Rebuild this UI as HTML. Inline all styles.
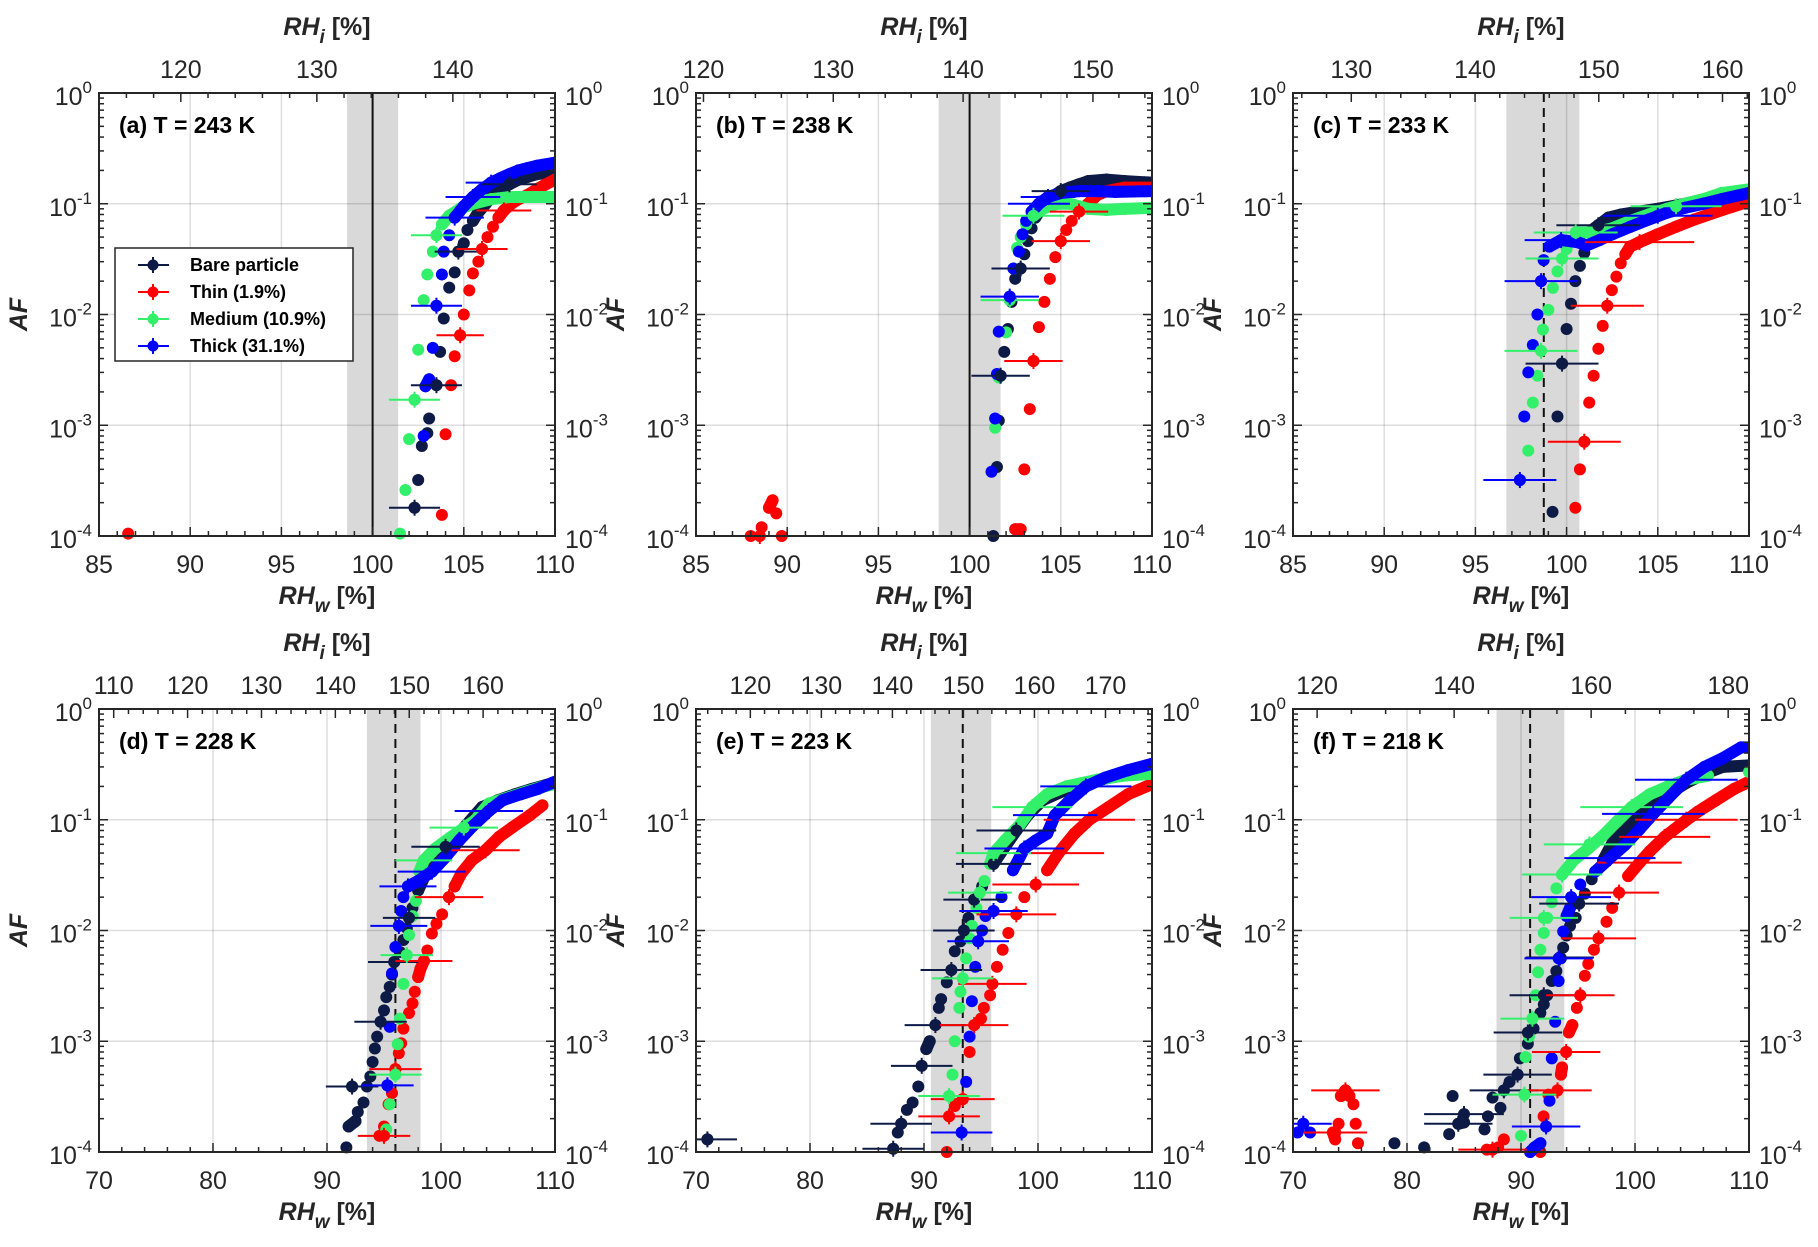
<!DOCTYPE html>
<html><head><meta charset="utf-8">
<style>
html,body{margin:0;padding:0;background:#fff;}
svg{display:block;font-family:"Liberation Sans",Arial,sans-serif;}
</style></head>
<body>
<svg id="fig" width="1818" height="1247" viewBox="0 0 1818 1247" xmlns="http://www.w3.org/2000/svg"></svg>
<script>
// ---------- data: [RHw %, AF] ----------
const aBare=[[102.3,1.8e-4],[102.5,3.2e-4],[102.7,6.5e-4],[103,8.5e-4],[103.1,1.15e-3],[103.5,2.3e-3],[103.7,4.6e-3],[103.9,9.2e-3],[104.2,1.75e-2],[104.5,2.4e-2],[104.7,3.7e-2],[105,4.4e-2],[105.2,5.8e-2],[105.5,7e-2],[105.8,8.4e-2],[106.2,0.1],[106.6,0.12],[107,0.135],[107.5,0.15],[108,0.165],[108.5,0.175],[109,0.185],[109.5,0.19],[110,0.195]];
const aThin=[[86.6,1.05e-4],[103.8,1.55e-4],[104,8.3e-4],[104.3,2.3e-3],[104.5,4.2e-3],[104.8,6.5e-3],[105,1e-2],[105.3,1.65e-2],[105.5,2.35e-2],[105.8,3e-2],[106,3.9e-2],[106.3,5e-2],[106.6,6.2e-2],[106.9,7.5e-2],[107.2,8.7e-2],[107.6,0.1],[108,0.11],[108.5,0.12],[109,0.135],[109.5,0.15],[110,0.165]];
const aMed=[[101.5,1.05e-4],[101.8,2.6e-4],[102,7.5e-4],[102.3,1.7e-3],[102.5,4.8e-3],[102.8,1.35e-2],[103,2.3e-2],[103.3,3.7e-2],[103.5,5.2e-2],[103.8,6.5e-2],[104.2,7.8e-2],[104.8,9e-2],[105.5,0.1],[106.5,0.11],[107.5,0.115],[108.5,0.115],[110,0.115]];
const aThick=[[102.8,8e-4],[102.9,2.25e-3],[103.1,2.6e-3],[103.3,5e-3],[103.5,1.2e-2],[103.8,2.3e-2],[103.9,3.7e-2],[104.2,5.2e-2],[104.5,7.5e-2],[105,9.5e-2],[105.5,0.115],[106,0.135],[106.5,0.155],[107,0.17],[107.5,0.185],[108,0.2],[108.5,0.21],[109,0.22],[110,0.235]];
const aErr=[[0,102.3,1.8e-4,1.4],[0,103.5,2.3e-3,1.4],[0,104.7,3.7e-2,1.3],[1,104.8,6.5e-3,1.3],[1,106,3.9e-2,1.4],[1,107.2,8.7e-2,1.5],[2,102.3,1.7e-3,1.4],[2,103.5,5.2e-2,1.4],[3,103.5,1.2e-2,1.4],[3,104.5,7.5e-2,1.6],[3,105.5,0.115,1.5],[3,106.5,0.155,1.4],[0,107.5,0.15,1.5]];

const bBare=[[101.3,1e-4],[101.5,4.2e-4],[101.6,1.1e-3],[101.7,2.8e-3],[101.9,4.6e-3],[102.1,7.4e-3],[102.3,1.3e-2],[102.5,2.1e-2],[102.8,2.6e-2],[103,3.5e-2],[103.2,4.6e-2],[103.4,6e-2],[103.6,7.5e-2],[104,9.5e-2],[104.5,0.115],[105,0.13],[105.5,0.14],[106,0.15],[106.5,0.16],[107.5,0.165],[108.5,0.16],[110,0.155]];
const bThin=[[88,1e-4],[88.6,1.2e-4],[89,1.8e-4],[89.2,2.1e-4],[89.4,1.6e-4],[89.7,1e-4],[102.5,1.15e-4],[102.8,1.15e-4],[103,4e-4],[103.3,1.4e-3],[103.5,3.8e-3],[103.8,7.7e-3],[104.1,1.3e-2],[104.4,2.1e-2],[104.7,3.3e-2],[105,4.6e-2],[105.3,5.8e-2],[105.6,7e-2],[106,8.5e-2],[106.5,0.1],[107,0.12],[107.5,0.13],[108.5,0.14],[110,0.14]];
const bMed=[[101.4,9.5e-4],[101.6,2.7e-3],[102,6.9e-3],[102.2,1.35e-2],[102.4,2.6e-2],[102.6,4e-2],[102.8,5e-2],[103.1,6.5e-2],[103.5,7.8e-2],[104,9e-2],[104.8,0.1],[105.5,0.1],[106.5,0.09],[107.5,0.088],[108.5,0.09],[110,0.092]];
const bThick=[[101.2,3.8e-4],[101.4,1.15e-3],[101.5,2.9e-3],[101.6,7e-3],[102.2,1.45e-2],[102.4,2.6e-2],[102.7,3.7e-2],[102.9,5.3e-2],[103.1,7e-2],[103.4,8.5e-2],[103.8,0.1],[104.3,0.115],[105,0.125],[106,0.13],[107,0.13],[108,0.128],[110,0.13]];
const bErr=[[1,88.5,1e-4,1.6],[0,101.7,2.8e-3,1.6],[0,102.8,2.6e-2,1.6],[1,103.5,3.8e-3,1.6],[1,105,4.6e-2,1.6],[2,102.2,1.35e-2,1.6],[2,103.5,7.8e-2,1.7],[3,102.2,1.45e-2,1.6],[3,103.8,0.1,1.7],[3,104.3,0.115,1.5],[1,106,8.5e-2,1.6],[0,105,0.13,1.6]];

const cBare=[[99.23,1.65e-4],[99.5,1.2e-3],[99.75,3.6e-3],[100,7.4e-3],[100.24,1.25e-2],[100.48,2e-2],[100.73,2.75e-2],[100.97,3.6e-2],[101.4,5.8e-2],[101.74,6.4e-2],[102.3,7.5e-2],[103,8e-2],[104,8.5e-2],[105,9e-2],[106.5,0.1],[108.5,0.12],[110,0.13]];
const cThin=[[100.48,1.8e-4],[100.73,4e-4],[100.97,7.1e-4],[101.24,1.6e-3],[101.48,2.8e-3],[101.74,4.9e-3],[101.98,7.9e-3],[102.23,1.2e-2],[102.48,1.66e-2],[102.73,2.2e-2],[102.97,2.9e-2],[103.22,3.5e-2],[103.48,4.1e-2],[104,4.5e-2],[105,5.3e-2],[106,6.2e-2],[107,7.2e-2],[108,8.2e-2],[109,9.3e-2],[110,0.105]];
const cMed=[[97.9,5.9e-4],[98.15,1.6e-3],[98.4,2.8e-3],[98.6,4.7e-3],[98.7,7.3e-3],[99,1.1e-2],[99.25,1.74e-2],[99.5,2.45e-2],[99.75,3.2e-2],[100,3.9e-2],[100.5,5.5e-2],[101.5,5.5e-2],[102.5,6e-2],[103.5,7e-2],[104.5,8e-2],[105.5,9e-2],[106.5,0.1],[107.5,0.11],[108.5,0.125],[110,0.135]];
const cThick=[[97.44,3.2e-4],[97.68,1.2e-3],[97.9,3e-3],[98.15,5.3e-3],[98.4,1e-2],[98.6,2e-2],[98.74,3.1e-2],[99.05,4.1e-2],[99.7,4.7e-2],[100.6,4.5e-2],[101.1,4.2e-2],[101.8,4.7e-2],[102.5,5.3e-2],[103.5,6.2e-2],[104.5,7.2e-2],[105.5,8.3e-2],[106.5,9.2e-2],[107.5,0.1],[108.5,0.11],[110,0.125]];
const cErr=[[0,99.75,3.6e-3,2],[0,101.74,6.4e-2,2.3],[1,100.97,7.1e-4,2],[1,102.23,1.2e-2,2],[1,104,4.5e-2,3],[2,98.6,4.7e-3,2],[2,99.75,3.2e-2,2],[2,100.5,5.5e-2,2.3],[3,97.44,3.2e-4,2],[3,98.6,2e-2,2],[3,99.7,4.7e-2,2],[2,106,9.5e-2,2.5],[3,105,7.8e-2,3]];

const dBare=[[91.7,1.1e-4],[91.9,1.7e-4],[92.5,1.9e-4],[92.7,2.3e-4],[93.2,2.8e-4],[92.2,3.9e-4],[93.5,3.9e-4],[93.8,4.8e-4],[94,6.5e-4],[94.2,8.6e-4],[94.4,1.1e-3],[94.7,1.5e-3],[95,1.9e-3],[95.2,2.5e-3],[95.5,3.1e-3],[95.7,4e-3],[95.9,5.2e-3],[96.4,6.4e-3],[96.7,8.2e-3],[97,1.05e-2],[97.2,1.3e-2],[97.5,1.6e-2],[98,2.3e-2],[98.9,3.7e-2],[100.4,5.7e-2],[101.8,8e-2],[103.6,0.13],[105,0.15],[106.5,0.17],[108,0.19],[109.5,0.21],[110,0.22]];
const dThin=[[94.6,1.4e-4],[95,1.7e-4],[95.4,2.7e-4],[95.7,3.4e-4],[96,5.6e-4],[96.3,7.8e-4],[96.5,9.6e-4],[96.7,1.3e-3],[97.2,1.8e-3],[97.5,2.2e-3],[97.7,2.8e-3],[98,3.8e-3],[98.2,4.5e-3],[98.5,5.3e-3],[98.8,6.6e-3],[99.2,9.4e-3],[99.6,1.15e-2],[100.1,1.4e-2],[100.7,2e-2],[101.2,2.5e-2],[101.8,3.3e-2],[102.7,4.3e-2],[103.9,5.3e-2],[105.1,7e-2],[106.3,8.6e-2],[107.8,0.11],[108.9,0.135]];
const dMed=[[95.2,1.6e-4],[95.5,2.7e-4],[96,5e-4],[96.2,9.4e-4],[96.4,1.6e-3],[96.7,3.3e-3],[97,6e-3],[97.2,9.1e-3],[97.5,1.35e-2],[97.8,1.85e-2],[98.1,3.4e-2],[98.5,4.3e-2],[99.5,5.5e-2],[100.9,7e-2],[103,9.9e-2],[104.2,0.14],[106,0.16],[107.5,0.18],[109,0.2],[110,0.21]];
const dThick=[[95.3,4e-4],[95.5,1.35e-3],[95.7,4.1e-3],[96,7.1e-3],[96.3,1.1e-2],[96.5,1.5e-2],[96.7,2e-2],[97.1,2.5e-2],[98,2.8e-2],[99.2,3.4e-2],[100.4,4.6e-2],[101.6,6.5e-2],[102.7,8.6e-2],[104.2,0.12],[105.4,0.15],[107,0.17],[108.5,0.19],[110,0.22]];
const dErr=[[0,92.2,3.9e-4,2.3],[0,94.7,1.5e-3,2.3],[0,95.9,5.2e-3,2.3],[0,97.2,1.3e-2,2.3],[0,100.4,5.7e-2,3],[1,95,1.4e-4,2.3],[1,96,5.6e-4,2.3],[1,98.5,5.3e-3,2.5],[1,100.7,2e-2,3],[1,103.9,5.3e-2,3],[2,96,5e-4,2.3],[2,97,6e-3,2.3],[2,98.5,4.3e-2,2.5],[3,95.3,4e-4,2.3],[3,96.3,1.1e-2,2.5],[3,97.1,2.5e-2,2.5],[3,99.2,3.4e-2,3],[2,102,8.5e-2,3],[3,104.2,0.12,3]];

const eBare=[[71,1.3e-4],[87.3,1.07e-4],[87.7,1.5e-4],[88,1.8e-4],[88.5,2.4e-4],[89,2.8e-4],[89.5,3.9e-4],[89.8,6e-4],[90.2,8.5e-4],[90.5,1e-3],[91,1.4e-3],[91.3,2e-3],[91.5,2.4e-3],[92,3.4e-3],[92.4,4.4e-3],[92.7,6.5e-3],[93.2,8e-3],[93.5,1e-2],[93.9,1.3e-2],[94.4,1.9e-2],[95.1,2.5e-2],[96.1,4e-2],[97.1,5.7e-2],[98.1,8e-2],[99.1,0.11],[100.4,0.15],[102.1,0.18],[104.5,0.22],[107.2,0.25],[110,0.28]];
const eThin=[[92,1e-4],[92.2,2.1e-4],[92.7,2.6e-4],[93.4,3e-4],[94,8e-4],[94.4,1.4e-3],[95,1.6e-3],[95.25,2e-3],[95.8,2.6e-3],[96,3.3e-3],[96.4,4.7e-3],[96.9,6.7e-3],[97.4,9.5e-3],[98.1,1.4e-2],[98.8,2e-2],[99.8,2.6e-2],[100.8,3.5e-2],[101.8,5e-2],[103.2,7.5e-2],[104.5,0.1],[106.2,0.13],[107.9,0.17],[110,0.21]];
const eMed=[[92.2,3.2e-4],[92.5,5e-4],[92.7,1e-3],[93.1,2e-3],[93.2,2.8e-3],[93.4,3.7e-3],[93.7,5.6e-3],[94,8.5e-3],[94.2,1.1e-2],[94.6,1.6e-2],[94.9,2.2e-2],[95.3,2.8e-2],[95.8,4e-2],[96.1,5e-2],[97.1,6.5e-2],[98.4,9e-2],[99.5,0.13],[100.8,0.17],[102.5,0.2],[105.2,0.23],[107.5,0.25],[110,0.26]];
const eThick=[[93.3,1.5e-4],[93.7,4.3e-4],[94,1.1e-3],[94.2,2.3e-3],[94.5,4.7e-3],[94.75,8e-3],[95.1,1e-2],[95.4,1.35e-2],[96.1,1.5e-2],[96.8,2e-2],[97.8,3.5e-2],[98.8,5.5e-2],[99.8,6.5e-2],[100.8,7.5e-2],[101.5,0.11],[102.8,0.15],[104.2,0.2],[105.9,0.24],[107.9,0.28],[110,0.32]];
const eErr=[[0,71,1.3e-4,2.6],[0,87.3,1.07e-4,2.7],[0,88,1.8e-4,2.7],[0,89.8,6e-4,2.7],[0,91,1.4e-3,2.7],[0,92.4,4.4e-3,2.7],[0,93.5,1e-2,2.7],[0,94.4,1.9e-2,2.7],[0,96.1,4e-2,3.3],[0,98.1,8e-2,3.5],[1,92.2,2.1e-4,2.7],[1,93.4,3e-4,2.8],[1,94.4,1.4e-3,3],[1,96,3.3e-3,3],[1,98.1,1.4e-2,3.5],[1,99.8,2.6e-2,3.8],[1,101.8,5e-2,4],[1,104.5,0.1,4],[2,92.2,3.2e-4,2.7],[2,93.4,3.7e-3,2.7],[2,94.9,2.2e-2,2.8],[2,96.1,5e-2,3.3],[2,99.5,0.13,3.5],[3,93.3,1.5e-4,2.7],[3,94.75,8e-3,2.7],[3,96.1,1.5e-2,3],[3,98.8,5.5e-2,3.5],[3,101.5,0.11,3.7],[3,104.2,0.2,4]];

const fBare=[[78.9,1.2e-4],[81.5,1.1e-4],[83.7,1.45e-4],[84,3.2e-4],[84.5,1.8e-4],[85,1.85e-4],[86.8,1.6e-4],[87.1,2.1e-4],[87.5,3.1e-4],[88.2,2.5e-4],[88.5,3.6e-4],[89,4.3e-4],[89.7,5e-4],[89.9,7e-4],[90.6,9.5e-4],[91.1,1.3e-3],[91.7,1.8e-3],[92,2.15e-3],[92.3,2.6e-3],[92.7,3.5e-3],[93.1,4.3e-3],[93.4,5.7e-3],[93.7,7e-3],[94,9e-3],[94.3,1.1e-2],[94.8,1.3e-2],[95.1,1.75e-2],[95.6,2.15e-2],[96.2,2.9e-2],[97.2,4.3e-2],[98.1,6.4e-2],[99.1,8.2e-2],[100.4,0.113],[101.6,0.144],[102.9,0.17],[104.5,0.215],[106.1,0.26],[107.7,0.3],[110,0.31]];
const fThin=[[73.5,1.5e-4],[73.7,1.3e-4],[74,1.8e-4],[74.2,3.2e-4],[74.6,3.6e-4],[74.95,3.2e-4],[75.3,2.7e-4],[75.5,1.8e-4],[75.7,1.2e-4],[87,1.05e-4],[88,1.1e-4],[88.5,1.3e-4],[91.7,1e-4],[91.98,2.1e-4],[92.4,3.3e-4],[93.2,3.6e-4],[93.5,5e-4],[93.6,5.8e-4],[93.96,8e-4],[94.2,1.2e-3],[94.5,1.4e-3],[94.9,2e-3],[95.2,2.6e-3],[95.6,3.9e-3],[95.9,5e-3],[96.4,6.7e-3],[96.8,8.5e-3],[97.5,1.2e-2],[98,1.6e-2],[98.6,2.2e-2],[99.4,3.1e-2],[100.4,4.1e-2],[101.3,5.2e-2],[102.6,7e-2],[103.9,8.9e-2],[105.5,0.118],[107.1,0.15],[108.7,0.19],[109.8,0.215]];
const fMed=[[90,1.4e-4],[90.3,3.3e-4],[90.4,7.2e-4],[90.7,1.1e-3],[91,1.6e-3],[91.3,2.6e-3],[91.5,4.2e-3],[91.7,6.7e-3],[92,9.5e-3],[92.3,1.3e-2],[92.7,1.8e-2],[93.1,2.4e-2],[93.6,3.2e-2],[94.6,4.3e-2],[95.9,5.5e-2],[97.2,7.2e-2],[98.4,9.6e-2],[99.7,0.13],[101.3,0.17],[102.9,0.2],[104.5,0.23],[106.4,0.25],[110,0.27]];
const fThick=[[70.4,1.5e-4],[70.9,1.8e-4],[71.5,1.5e-4],[90.8,1e-4],[91.2,1.1e-4],[91.7,1.2e-4],[92.2,1.7e-4],[92.5,2.9e-4],[92.7,7e-4],[93,1.5e-3],[93.3,3.5e-3],[93.5,5.6e-3],[93.7,9.8e-3],[94,1.35e-2],[94.3,1.6e-2],[94.4,2e-2],[95.2,2.6e-2],[96.5,3.4e-2],[97.8,4.5e-2],[99.1,5.9e-2],[100.4,8.2e-2],[101.6,0.113],[102.9,0.156],[104.5,0.23],[106.1,0.3],[107.7,0.36],[109.3,0.45],[110,0.45]];
const fErr=[[1,74.6,3.6e-4,3],[1,73.7,1.5e-4,2.8],[3,70.9,1.8e-4,2.5],[0,84.5,1.8e-4,3],[0,85,2.2e-4,3.5],[0,88.5,3.6e-4,3],[0,89.7,5e-4,3],[0,90.6,1.2e-3,3],[0,92,2.6e-3,3],[0,93.4,5.7e-3,3],[0,95.1,1.75e-2,3.5],[1,87.5,1.05e-4,3],[1,93.2,3.6e-4,3],[1,93.96,8e-4,3],[1,95.2,2.6e-3,3],[1,96.8,8.5e-3,3.3],[1,98.6,2.2e-2,3.5],[1,100.4,4.1e-2,3.7],[1,102.6,7e-2,4],[1,104.5,0.1,4.5],[2,90.3,3.3e-4,2.8],[2,91,1.6e-3,2.8],[2,92,1.3e-2,3],[2,93.6,3.2e-2,3.5],[2,96,6e-2,4],[2,99.7,0.13,4.5],[3,92.2,1.7e-4,3],[3,93.3,5.6e-3,3],[3,94.4,2e-2,3.5],[3,97.8,4.5e-2,4],[3,101.6,0.113,4.5],[3,104.5,0.23,4.5]];

// axis tick labels
const yTickExp=[0,-1,-2,-3,-4];
const xTicksRow1=[85,90,95,100,105,110];
const xTicksRow2=[70,80,90,100,110];

const COLORS=['#0d1a45','#ff0000','#33f06a','#0000ff'];
const SERIES_NAMES=['bare-particle','thin-coating','medium-coating','thick-coating'];

const panels=[
 {id:'a',label:'(a) T = 243 K',L:99,T:93,xmin:85,xmax:110,xticks:xTicksRow1,xminor:1,ratio:1.341,top:[120,130,140],topMinor:2,band:[98.6,101.4],vline:100,dashed:false,dense:0.065,data:[aBare,aThin,aMed,aThick],err:aErr},
 {id:'b',label:'(b) T = 238 K',L:696,T:93,xmin:85,xmax:110,xticks:xTicksRow1,xminor:1,ratio:1.405,top:[120,130,140,150],topMinor:2,band:[98.3,101.7],vline:100,dashed:false,dense:0.075,data:[bBare,bThin,bMed,bThick],err:bErr},
 {id:'c',label:'(c) T = 233 K',L:1293,T:93,xmin:85,xmax:110,xticks:xTicksRow1,xminor:1,ratio:1.474,top:[130,140,150,160],topMinor:2,band:[96.7,100.7],vline:98.75,dashed:true,dense:0.04,data:[cBare,cThin,cMed,cThick],err:cErr},
 {id:'d',label:'(d) T = 228 K',L:99,T:709,xmin:70,xmax:110,xticks:xTicksRow2,xminor:2,ratio:1.543,top:[110,120,130,140,150,160],topMinor:2,band:[93.5,98.2],vline:96.0,dashed:true,dense:0.022,data:[dBare,dThin,dMed,dThick],err:dErr},
 {id:'e',label:'(e) T = 223 K',L:696,T:709,xmin:70,xmax:110,xticks:xTicksRow2,xminor:2,ratio:1.605,top:[120,130,140,150,160,170],topMinor:2,band:[90.6,95.9],vline:93.4,dashed:true,dense:0.03,data:[eBare,eThin,eMed,eThick],err:eErr},
 {id:'f',label:'(f) T = 218 K',L:1293,T:709,xmin:70,xmax:110,xticks:xTicksRow2,xminor:2,ratio:1.664,top:[120,140,160,180],topMinor:5,band:[87.85,93.8],vline:90.8,dashed:true,dense:0.03,data:[fBare,fThin,fMed,fThick],err:fErr}
];
const W=456,H=443;
const NS='http://www.w3.org/2000/svg';
const svg=document.getElementById('fig');
function mk(tag,attrs,parent){const n=document.createElementNS(NS,tag);for(const k in attrs)n.setAttribute(k,attrs[k]);(parent||svg).appendChild(n);return n;}

panels.forEach(p=>{
  const g=mk('g',{});
  
  
  const sx=v=>p.L+(v-p.xmin)/(p.xmax-p.xmin)*W;
  const sy=af=>p.T+(-Math.log10(af))/4*H;
  const clipId='clip'+p.id;
  const cp=mk('clipPath',{id:clipId},g);
  mk('rect',{x:p.L,y:p.T-8,width:W,height:H+16},cp);
  const band=mk('rect',{x:sx(p.band[0]),y:p.T,width:sx(p.band[1])-sx(p.band[0]),height:H,fill:'#d9d9d9'},g);
  
  
  p.xticks.forEach(v=>{ if(v>p.xmin&&v<p.xmax){const l=mk('line',{x1:sx(v),x2:sx(v),y1:p.T,y2:p.T+H,stroke:'#000','stroke-opacity':0.13,'stroke-width':1.5},g);
    
    }});
  yTickExp.forEach(e=>{ if(e<0&&e>-4){const l=mk('line',{x1:p.L,x2:p.L+W,y1:sy(Math.pow(10,e)),y2:sy(Math.pow(10,e)),stroke:'#000','stroke-opacity':0.13,'stroke-width':1.5},g);
    
    }});
  const vl=mk('line',{x1:sx(p.vline),x2:sx(p.vline),y1:p.T,y2:p.T+H,stroke:'#111','stroke-width':2,'stroke-dasharray':p.dashed?'9,6':'none'},g);
  
  
  const dg=mk('g',{'clip-path':'url(#'+clipId+')'},g);
  p.data.forEach((ser,si)=>{
    const sg=mk('g',{},dg);
    
    
    for(let i=1;i<ser.length;i++){
      const x1=sx(ser[i-1][0]),y1=sy(ser[i-1][1]),x2=sx(ser[i][0]),y2=sy(ser[i][1]);
      const d=Math.hypot(x2-x1,y2-y1);
      const inBand=ser[i-1][1]>=p.dense&&ser[i][1]>=p.dense;
      if((inBand&&d<40)||d<9){mk('line',{x1:x1,y1:y1,x2:x2,y2:y2,stroke:COLORS[si],'stroke-width':12,'stroke-linecap':'round'},sg);}
    }
    ser.forEach(pt=>{
      const c=mk('circle',{cx:sx(pt[0]),cy:sy(pt[1]),r:6,fill:COLORS[si]},sg);
      
      
    });
  });
  p.err.forEach(e=>{
    const x=sx(e[1]),y=sy(e[2]),x1=sx(e[1]-e[3]),x2=sx(e[1]+e[3]);
    const eg=mk('g',{},dg);
    
    
    mk('line',{x1:x1,x2:x2,y1:y,y2:y,stroke:COLORS[e[0]],'stroke-width':2},eg);
    mk('line',{x1:x,x2:x,y1:y-8,y2:y+8,stroke:COLORS[e[0]],'stroke-width':2},eg);
    mk('circle',{cx:x,cy:y,r:6,fill:COLORS[e[0]]},eg);
  });
  const fr=mk('rect',{x:p.L,y:p.T,width:W,height:H,fill:'none',stroke:'#262626','stroke-width':2},g);
  
  
  for(let d=0;d<4;d++){for(let m=1;m<=9;m++){const v=Math.pow(10,-4+d)*m;const y=sy(v);const len=m===1?9:5;
    mk('line',{x1:p.L,x2:p.L+len,y1:y,y2:y,stroke:'#262626','stroke-width':1.5},g);
    mk('line',{x1:p.L+W,x2:p.L+W-len,y1:y,y2:y,stroke:'#262626','stroke-width':1.5},g);}}
  yTickExp.forEach(e=>{const y=sy(Math.pow(10,e))+12;
    [[p.L-7,'end','left'],[p.L+W+10,'start','right']].forEach(s=>{
      const t=mk('text',{x:s[0],y:y,'text-anchor':s[1],'font-size':25,fill:'#262626'},g);
      
      
      t.appendChild(document.createTextNode('10'));
      const ts=mk('tspan',{dy:-12,'font-size':17},t);ts.textContent=String(e);
    });});
  for(let v=p.xmin;v<=p.xmax+1e-9;v+=p.xminor){const x=sx(v);const major=p.xticks.includes(v);
    mk('line',{x1:x,x2:x,y1:p.T+H,y2:p.T+H-(major?9:5),stroke:'#262626','stroke-width':1.5},g);}
  p.xticks.forEach(v=>{const t=mk('text',{x:sx(v),y:p.T+H+37,'text-anchor':'middle','font-size':25,fill:'#262626'},g);
    
    
    t.textContent=String(v);});
  const lo=p.xmin*p.ratio,hi=p.xmax*p.ratio;
  for(let v=Math.ceil(lo/p.topMinor)*p.topMinor;v<=hi;v+=p.topMinor){const x=sx(v/p.ratio);const major=p.top.includes(v);
    mk('line',{x1:x,x2:x,y1:p.T,y2:p.T+(major?9:5),stroke:'#262626','stroke-width':1.5},g);}
  p.top.forEach(v=>{const t=mk('text',{x:sx(v/p.ratio),y:p.T-15,'text-anchor':'middle','font-size':25,fill:'#262626'},g);
    
    
    t.textContent=String(v);});
  const cx=p.L+W/2;
  const bt=mk('text',{x:cx,y:p.T+H+68,'text-anchor':'middle','font-size':25,'font-weight':'bold',fill:'#262626'},g);
  
  
  bt.innerHTML='<tspan font-style="italic">RH</tspan><tspan font-style="italic" font-size="19" dy="8">w</tspan><tspan dy="-8"> [%]</tspan>';
  const tt=mk('text',{x:cx,y:p.T-58,'text-anchor':'middle','font-size':25,'font-weight':'bold',fill:'#262626'},g);
  
  
  tt.innerHTML='<tspan font-style="italic">RH</tspan><tspan font-style="italic" font-size="19" dy="8">i</tspan><tspan dy="-8"> [%]</tspan>';
  const ax=p.L-72;
  const a=mk('text',{x:ax,y:p.T+H/2,'text-anchor':'middle','font-size':25,'font-weight':'bold','font-style':'italic',fill:'#262626',transform:'rotate(-90 '+ax+' '+(p.T+H/2)+')'},g);
  
  
  a.textContent='AF';
  const pl=mk('text',{x:p.L+20,y:p.T+40,'font-size':23,'font-weight':'bold',fill:'#000'},g);
  
  
  pl.textContent=p.label;
});

const lg=mk('g',{});


mk('rect',{x:115,y:248,width:238,height:113,fill:'#fff',stroke:'#262626','stroke-width':1.5},lg);
const legendLabels=['Bare particle','Thin (1.9%)','Medium (10.9%)','Thick (31.1%)'];
legendLabels.forEach((lab,i)=>{
  const y=265+i*27;
  const e=mk('g',{},lg);
  
  
  mk('line',{x1:138,x2:169,y1:y,y2:y,stroke:COLORS[i],'stroke-width':2},e);
  mk('line',{x1:153,x2:153,y1:y-8,y2:y+8,stroke:COLORS[i],'stroke-width':2},e);
  mk('circle',{cx:153,cy:y,r:5.5,fill:COLORS[i]},e);
  const t=mk('text',{x:190,y:y+6,'font-size':18,'font-weight':'bold',fill:'#000'},e);
  t.textContent=lab;
});
</script>
</body></html>
